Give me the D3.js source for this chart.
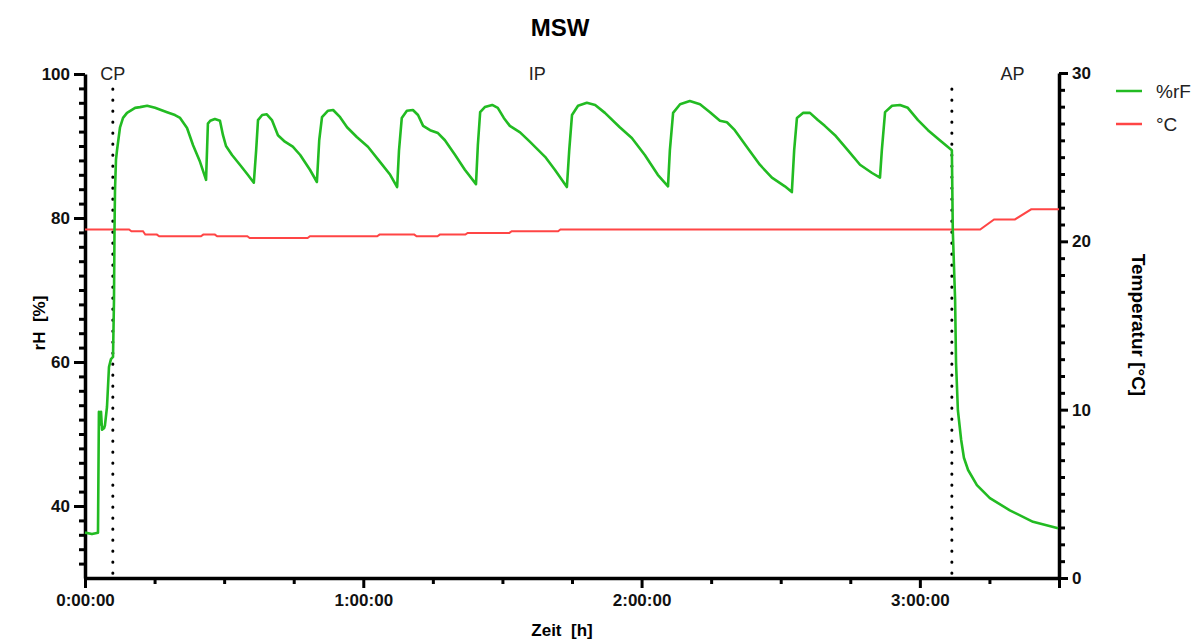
<!DOCTYPE html>
<html lang="de">
<head>
    <meta charset="UTF-8">
    <title>MSW</title>
    <style>
        body { margin: 0; background: #fff; }
        text { font-family: "Liberation Sans", Arial, sans-serif; }
        .axis path, .axis line { stroke: #000; }
        .axis text { font-size: 17px; font-weight: bold; fill: #111; }
    </style>
    <script src="https://cdn.jsdelivr.net/npm/d3@7"></script>
</head>
<body>
    <svg id="chart" width="1200" height="639"></svg>
    <script>
        // time in minutes, relative humidity in %
        const rhData = [
            [0,36.3],[1.5,36.1],[2.8,36.3],[3.0,53.1],[3.2,51.3],[3.45,53.1],[3.67,50.6],[4.1,50.8],
            [4.3,51.2],[4.74,53.75],[5.17,59.3],[5.6,60.4],[6.04,60.7],[6.25,68.6],[6.36,78.3],
            [6.47,83.9],[6.68,88.1],[6.9,89.4],[7.55,92.6],[8.2,93.9],[9.06,94.6],[10.8,95.3],
            [11.86,95.4],[13.4,95.6],[15.1,95.3],[17.7,94.7],[19.4,94.3],[20.5,93.9],[22.0,92.5],
            [23.3,90.1],[24.8,87.8],[26.1,85.3],[26.5,93.1],[27.0,93.5],[28.0,93.75],[29.1,93.5],
            [29.75,91.5],[30.4,90.0],[31.7,88.75],[33.4,87.4],[35.1,86.0],[36.4,84.9],[36.9,89.4],
            [37.3,93.6],[38.2,94.3],[39.2,94.4],[40.3,93.6],[41.6,91.5],[43.1,90.6],[44.8,89.9],
            [46.4,88.75],[48.5,86.7],[50.0,85.0],[50.5,90.8],[51.1,94.0],[52.4,94.9],[53.5,95.0],
            [55.0,94.0],[56.5,92.6],[58.6,91.25],[61.0,89.9],[63.6,87.8],[65.8,86.0],[67.3,84.3],
            [67.7,89.4],[68.3,93.9],[69.4,94.9],[70.7,95.0],[71.8,94.3],[72.9,92.8],[74.4,92.2],
            [76.1,91.8],[77.6,90.8],[79.8,88.75],[81.9,86.7],[84.3,84.7],[84.7,90.1],[85.2,94.7],
            [86.2,95.4],[87.8,95.7],[89.0,95.3],[90.3,93.9],[91.6,92.8],[93.8,91.9],[95.9,90.6],
            [99.2,88.5],[101.3,86.7],[103.9,84.3],[104.4,89.4],[105.0,94.3],[106.3,95.6],[108.2,96.0],
            [110.0,95.7],[112.1,94.6],[115.3,92.6],[117.9,91.1],[120.7,88.75],[123.5,86.0],[125.7,84.4],
            [126.1,89.4],[126.8,94.6],[128.3,95.8],[130.4,96.25],[132.6,95.8],[134.75,94.7],[136.9,93.5],
            [138.4,93.3],[140.1,92.2],[142.9,89.7],[145.5,87.4],[148.1,85.6],[150.9,84.4],[152.4,83.6],
            [152.9,89.4],[153.5,93.9],[154.8,94.6],[156.3,94.6],[158.0,93.6],[159.5,92.8],[161.7,91.5],
            [164.5,89.4],[167.1,87.4],[169.7,86.25],[171.4,85.6],[171.8,89.4],[172.5,94.7],[174.0,95.6],
            [175.7,95.7],[177.4,95.3],[179.6,93.6],[181.75,92.2],[184.3,90.8],[186.9,89.4],[187.1,78.3],
            [187.6,68.6],[187.8,59.9],[188.2,53.3],[188.9,49.2],[189.5,46.7],[190.4,45.0],[192.3,42.9],
            [195.1,41.1],[199.4,39.4],[204.4,37.8],[209.8,36.9]
        ];

        // time in minutes, temperature in °C
        const tempData = [
            [0,20.7],[9.5,20.7],[10,20.6],[12.5,20.6],[13,20.4],[15.5,20.4],[16,20.3],[25,20.3],
            [25.5,20.4],[28,20.4],[28.5,20.3],[35,20.3],[35.5,20.2],[48,20.2],[48.5,20.3],[63,20.3],
            [63.5,20.4],[71,20.4],[71.5,20.3],[76,20.3],[76.5,20.4],[82,20.4],[82.5,20.5],[91.5,20.5],
            [92,20.6],[102,20.6],[102.5,20.7],[193,20.7],[196,21.3],[200.5,21.3],[204,21.9],[210,21.9]
        ];

        const phaseLines = [6.0, 186.9];
        const phaseLabels = [["CP", 6.0], ["IP", 97.5], ["AP", 200]];
        const xMajorTicks = [0, 60, 120, 180];
        const rhMajorTicks = [40, 60, 80, 100];
        const tempMajorTicks = [0, 10, 20, 30];
        const seriesNames = ["%rF", "°C"];
        const seriesColors = ["#22bb22", "#ff4545"];

        const svg = d3.select("#chart");
        const x = d3.scaleLinear().domain([0, 210]).range([85, 1059]);
        const yL = d3.scaleLinear().domain([30, 100]).range([578, 74]);
        const yR = d3.scaleLinear().domain([0, 30]).range([578, 73]);

        const fmtTime = m => `${Math.floor(m / 60)}:00:00`;

        // x axis
        svg.append("g").attr("class", "axis")
            .attr("transform", "translate(0,578)")
            .call(d3.axisBottom(x).tickValues(d3.range(15, 210, 15).filter(v => v % 60))
                .tickSize(6).tickSizeOuter(0).tickFormat(""))
            .call(g => g.select(".domain").remove())
            .selectAll("line").attr("stroke-width", 3);
        svg.append("g").attr("class", "axis")
            .attr("transform", "translate(0,578)")
            .call(d3.axisBottom(x).tickValues(xMajorTicks.concat([210])).tickSize(10).tickSizeOuter(0)
                .tickFormat(d => d === 210 ? "" : fmtTime(d)).tickPadding(6))
            .call(g => g.select(".domain").attr("stroke-width", 3.5))
            .selectAll("line").attr("stroke-width", 3);

        // left axis
        svg.append("g").attr("class", "axis")
            .attr("transform", "translate(85,0)")
            .call(d3.axisLeft(yL).tickValues(d3.range(32, 100, 2).filter(v => v % 20))
                .tickSize(6).tickSizeOuter(0).tickFormat(""))
            .call(g => g.select(".domain").remove())
            .selectAll("line").attr("stroke-width", 3);
        svg.append("g").attr("class", "axis")
            .attr("transform", "translate(85,0)")
            .call(d3.axisLeft(yL).tickValues(rhMajorTicks).tickSize(11).tickSizeOuter(0).tickPadding(4))
            .call(g => g.select(".domain").attr("stroke-width", 3.5))
            .selectAll("line").attr("stroke-width", 3);

        // right axis
        svg.append("g").attr("class", "axis")
            .attr("transform", "translate(1059,0)")
            .call(d3.axisRight(yR).tickValues(d3.range(1, 30, 1).filter(v => v % 10))
                .tickSize(6).tickSizeOuter(0).tickFormat(""))
            .call(g => g.select(".domain").remove())
            .selectAll("line").attr("stroke-width", 3);
        svg.append("g").attr("class", "axis")
            .attr("transform", "translate(1059,0)")
            .call(d3.axisRight(yR).tickValues(tempMajorTicks).tickSize(9).tickSizeOuter(0).tickPadding(4))
            .call(g => g.select(".domain").attr("stroke-width", 3.5))
            .selectAll("line").attr("stroke-width", 3);

        // phase separators
        svg.selectAll(".phase").data(phaseLines).join("line")
            .attr("x1", d => x(d)).attr("x2", d => x(d))
            .attr("y1", yL(97.9)).attr("y2", yL(30.5))
            .attr("stroke", "#000").attr("stroke-width", 3)
            .attr("stroke-linecap", "round").attr("stroke-dasharray", "0.1 10.9");

        svg.selectAll(".phaseLabel").data(phaseLabels).join("text")
            .attr("x", d => x(d[1])).attr("y", 80)
            .attr("text-anchor", "middle").attr("font-size", 18).attr("fill", "#222")
            .text(d => d[0]);

        // series
        const lineL = d3.line().x(d => x(d[0])).y(d => yL(d[1]));
        const lineR = d3.line().x(d => x(d[0])).y(d => yR(d[1]));
        svg.append("path").datum(tempData).attr("d", lineR)
            .attr("fill", "none").attr("stroke", seriesColors[1]).attr("stroke-width", 2);
        svg.append("path").datum(rhData).attr("d", lineL)
            .attr("fill", "none").attr("stroke", seriesColors[0]).attr("stroke-width", 2.6)
            .attr("stroke-linejoin", "round");

        // titles
        svg.append("text").attr("x", 560).attr("y", 36).attr("text-anchor", "middle")
            .attr("font-size", 24).attr("font-weight", "bold").text("MSW");
        svg.append("text").attr("x", 562).attr("y", 636).attr("text-anchor", "middle")
            .attr("font-size", 17).attr("font-weight", "bold").attr("xml:space", "preserve").text("Zeit  [h]");
        svg.append("text").attr("transform", "translate(45,323) rotate(-90)").attr("text-anchor", "middle")
            .attr("font-size", 17).attr("font-weight", "bold").attr("xml:space", "preserve").text("rH  [%]");
        svg.append("text").attr("transform", "translate(1132,325) rotate(90)").attr("text-anchor", "middle")
            .attr("font-size", 19).attr("font-weight", "bold").text("Temperatur [°C]");

        // legend
        const legend = svg.append("g").selectAll("g").data(seriesNames).join("g")
            .attr("transform", (d, i) => `translate(1116,${91 + i * 33})`);
        legend.append("line").attr("x1", 0).attr("x2", 26)
            .attr("stroke", (d, i) => seriesColors[i]).attr("stroke-width", 2.5);
        legend.append("text").attr("x", 40).attr("y", 7).attr("font-size", 19).attr("fill", "#222")
            .text(d => d);
    </script>
</body>
</html>
